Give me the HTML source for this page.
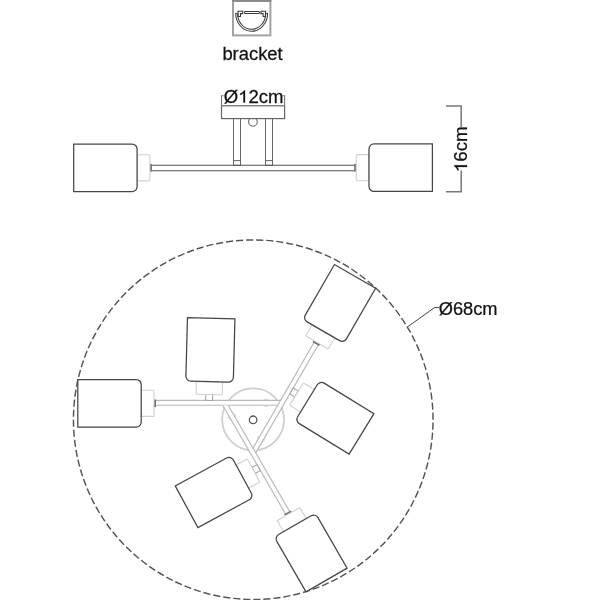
<!DOCTYPE html>
<html><head><meta charset="utf-8">
<style>
html,body{margin:0;padding:0;background:#fff;width:600px;height:600px;overflow:hidden}
svg{display:block}
#wrap{width:600px;height:600px;will-change:transform}
text{font-family:"Liberation Sans",sans-serif;fill:#111;stroke:#111;stroke-width:0.25px}
</style></head>
<body>
<div id="wrap"><svg width="600" height="600" viewBox="0 0 600 600">
<defs>
  <g id="lamp">
    <rect x="0" y="-13.1" width="12.8" height="26.2" rx="1" fill="#fff" stroke="#d0d0d0" stroke-width="1.1"/>
    <path d="M12.8,-18.75 a5,5 0 0 1 5,-5 H76.2 V23.75 H17.8 a5,5 0 0 1 -5,-5 Z" fill="#fff" stroke="#454545" stroke-width="1.25"/>
  </g>
  <g id="endconn"><rect x="-2" y="-3.8" width="2.2" height="7.6" fill="#6a6a6a"/></g>
  <g id="midconn"><rect x="-5.9" y="-3.45" width="5.9" height="6.9" fill="#fff" stroke="#a0a0a0" stroke-width="1"/></g>
</defs>

<!-- ===== bracket icon ===== -->
<rect x="233" y="1" width="37.4" height="34.4" fill="#fff" stroke="#a2a2a2" stroke-width="2"/>
<line x1="232" y1="0.9" x2="271.4" y2="0.9" stroke="#8a8a8a" stroke-width="1.8"/>
<g fill="none" stroke="#3a3a3a" stroke-width="1.05">
  <rect x="244.3" y="11.4" width="15.2" height="2.2" rx="1.1"/>
  <path d="M235.7,13.3 A15.95,18 0 0 0 267.6,13.3"/>
  <path d="M237.7,13.8 A13.95,15.5 0 0 0 265.6,13.8"/>
  <path d="M235.7,13.3 L237.7,13.8"/>
  <path d="M267.6,13.3 L265.6,13.8"/>
  <path d="M238,11.3 H242.7 V13.6 H240.5 V16.5 H238.2 Z"/>
  <path d="M265.6,11.3 H260.9 V13.6 H263.1 V16.5 H265.4 Z"/>
</g>
<g transform="translate(222.4,60) scale(1.022,1)"><text x="0" y="0" font-size="18">bracket</text></g>

<!-- ===== side view ===== -->
<g stroke="#666" stroke-width="1" fill="#fff">
  <rect x="233.5" y="118" width="7" height="47.3"/>
  <rect x="265.5" y="118" width="7" height="47.3"/>
  <line x1="233.5" y1="160.6" x2="240.5" y2="160.6"/>
  <line x1="265.5" y1="160.6" x2="272.5" y2="160.6"/>
</g>
<circle cx="252.9" cy="121.9" r="4.3" fill="#fff" stroke="#666" stroke-width="1.1"/>
<rect x="221.5" y="105.8" width="63.1" height="12.8" fill="#fff" stroke="#666" stroke-width="1.2"/>
<path d="M223.6,95.8 H221.5 V106" fill="none" stroke="#777" stroke-width="1.1"/>
<path d="M282.5,95.8 H284.6 V106" fill="none" stroke="#777" stroke-width="1.1"/>
<g transform="translate(223.7,102.6) scale(1.06,1)"><text x="0" y="0" font-size="17.5">Ø 2cm</text><path transform="translate(13.612,0) scale(0.008545,-0.008177)" fill="#111" stroke="#111" stroke-width="29" d="M763,0 L583,0 L583,1147 C540,1106 483,1064 413,1023 C342,982 279,951 223,930 L223,1104 C324,1151 412,1209 487,1276 C562,1343 615,1409 646,1472 L763,1472 Z"/></g>
<g stroke="#555" stroke-width="1.1">
  <line x1="151.5" y1="165.3" x2="356" y2="165.3"/>
  <line x1="151.5" y1="170.7" x2="356" y2="170.7"/>
</g>
<g transform="translate(149.9,167.8) rotate(180)"><use href="#endconn"/><use href="#lamp"/></g>
<g transform="translate(356.2,167.7)"><use href="#endconn"/><use href="#lamp"/></g>
<g stroke="#777" stroke-width="1.5" fill="none">
  <path d="M446,105.9 H461.2 V191.65 H446"/>
</g>
<rect x="453" y="127" width="16" height="43.5" fill="#fff"/>
<g transform="translate(467,149.3) rotate(-90) scale(1.02,1)"><text x="-22.497" y="0" font-size="18.4"> 6cm</text><path transform="translate(-22.497,0) scale(0.008984,-0.008598)" fill="#111" stroke="#111" stroke-width="29" d="M763,0 L583,0 L583,1147 C540,1106 483,1064 413,1023 C342,982 279,951 223,930 L223,1104 C324,1151 412,1209 487,1276 C562,1343 615,1409 646,1472 L763,1472 Z"/></g>

<!-- ===== top view ===== -->
<circle cx="253.25" cy="419.7" r="179.8" fill="none" stroke="#555" stroke-width="1.45" pathLength="1120" stroke-dasharray="7.1,2.9" stroke-dashoffset="-2.87"/>
<polyline points="407.4,327 434.5,307.6 439,307.6" fill="none" stroke="#444" stroke-width="1"/>
<g transform="translate(438.7,315.1) scale(1.015,1)"><text x="0" y="0" font-size="18">Ø68cm</text></g>

<circle cx="253.1" cy="419.4" r="30.95" fill="none" stroke="#cfcfcf" stroke-width="1.8"/>
<circle cx="253.15" cy="419.8" r="3.8" fill="none" stroke="#5a5a5a" stroke-width="1.3"/>
<g stroke="#b8b8b8" stroke-width="1.15">
<polygon points="155.00,400.40 280.54,400.40 277.77,405.20 155.00,405.20" fill="#fff" stroke="none"/>
<line x1="155.00" y1="400.40" x2="280.54" y2="400.40"/>
<line x1="155.00" y1="405.20" x2="277.77" y2="405.20"/>
<polygon points="318.54,344.18 255.77,452.90 253.00,448.10 314.38,341.78" fill="#fff" stroke="none"/>
<line x1="318.54" y1="344.18" x2="255.77" y2="452.90"/>
<line x1="314.38" y1="341.78" x2="253.00" y2="448.10"/>
<polygon points="285.46,513.92 222.69,405.20 228.23,405.20 289.62,511.52" fill="#fff" stroke="none"/>
<line x1="285.46" y1="513.92" x2="222.69" y2="405.20"/>
<line x1="289.62" y1="511.52" x2="228.23" y2="405.20"/>

</g>
<g fill="none" stroke="#c8c8c8" stroke-width="0.8">
<path d="M263.80,400.40 A2.2,1.3 0.0 0 1 268.20,400.40"/>
<path d="M263.80,405.20 A2.2,1.3 0.0 0 0 268.20,405.20"/>
<path d="M264.14,438.40 A2.2,1.3 120.0 0 1 261.94,442.21"/>
<path d="M259.98,436.00 A2.2,1.3 120.0 0 0 257.78,439.81"/>
<path d="M231.06,419.70 A2.2,1.3 240.0 0 1 228.86,415.89"/>
<path d="M235.22,417.30 A2.2,1.3 240.0 0 0 233.02,413.49"/>

</g>
<g transform="translate(154.00,403.30) rotate(180.00)"><use href="#endconn"/><use href="#lamp"/></g>
<g transform="translate(209.20,394.50) rotate(-88.50)"><use href="#midconn"/><use href="#lamp"/></g>
<g transform="translate(316.93,342.36) rotate(300.00)"><use href="#endconn"/><use href="#lamp"/></g>
<g transform="translate(296.55,394.07) rotate(31.50)"><use href="#midconn"/><use href="#lamp"/></g>
<g transform="translate(288.47,514.04) rotate(420.00)"><use href="#endconn"/><use href="#lamp"/></g>
<g transform="translate(253.55,470.43) rotate(151.50)"><use href="#midconn"/><use href="#lamp"/></g>

</svg></div>
</body></html>
